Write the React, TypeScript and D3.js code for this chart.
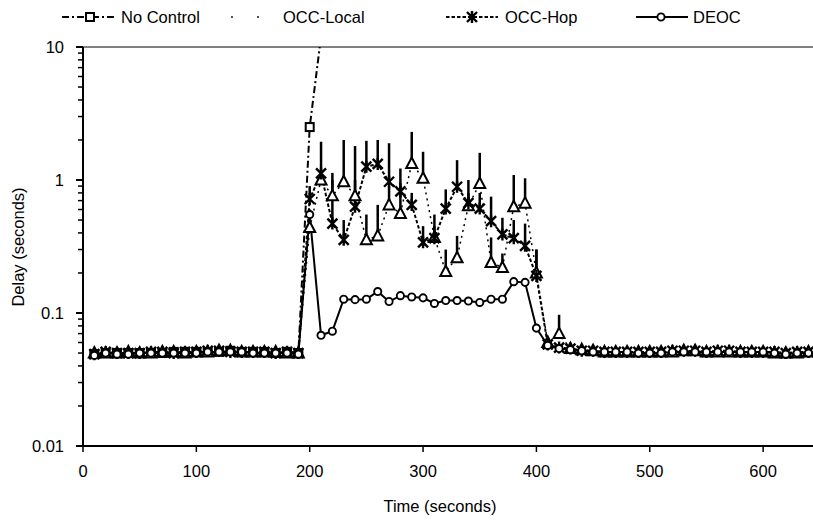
import React from 'react';
import * as d3 from 'd3';

const times = [10, 20, 30, 40, 50, 60, 70, 80, 90, 100, 110, 120, 130, 140, 150, 160, 170, 180, 190,
  200, 210, 220, 230, 240, 250, 260, 270, 280, 290, 300, 310, 320, 330, 340, 350, 360, 370, 380, 390, 400, 410,
  420, 430, 440, 450, 460, 470, 480, 490, 500, 510, 520, 530, 540, 550, 560, 570, 580, 590, 600, 610, 620, 630, 640];

const noControl = [0.049, 0.05, 0.05, 0.05, 0.05, 0.05, 0.05, 0.051, 0.051, 0.051, 0.051, 0.051, 0.052, 0.051, 0.051, 0.051, 0.05, 0.051, 0.05,
  2.5, 12];

const occLocal = [0.05, 0.05, 0.05, 0.051, 0.05, 0.05, 0.051, 0.051, 0.05, 0.051, 0.051, 0.052, 0.052, 0.051, 0.051, 0.051, 0.051, 0.05, 0.05,
  0.44, 1.0, 0.76, 0.97, 0.76, 0.355, 0.38, 0.65, 0.56, 1.33, 1.03, 0.37, 0.205, 0.26, 0.64, 0.94, 0.24, 0.22, 0.63, 0.67, 0.2, 0.06,
  0.07, 0.054, 0.053, 0.052, 0.051, 0.051, 0.051, 0.051, 0.051, 0.051, 0.051, 0.052, 0.052, 0.051, 0.051, 0.051, 0.051, 0.051, 0.051, 0.05, 0.05, 0.05, 0.051];

const occHop = [0.049, 0.051, 0.05, 0.05, 0.05, 0.051, 0.051, 0.05, 0.051, 0.051, 0.052, 0.052, 0.051, 0.051, 0.051, 0.051, 0.05, 0.051, 0.05,
  0.72, 1.12, 0.47, 0.355, 0.63, 1.26, 1.32, 0.97, 0.82, 0.65, 0.34, 0.365, 0.61, 0.89, 0.67, 0.61, 0.49, 0.39, 0.365, 0.32, 0.19, 0.058,
  0.055, 0.054, 0.052, 0.052, 0.051, 0.051, 0.051, 0.051, 0.051, 0.051, 0.052, 0.052, 0.052, 0.051, 0.052, 0.052, 0.051, 0.051, 0.051, 0.051, 0.05, 0.051, 0.051];

const deoc = [0.048, 0.05, 0.049, 0.049, 0.05, 0.05, 0.05, 0.05, 0.05, 0.05, 0.051, 0.051, 0.051, 0.051, 0.05, 0.05, 0.05, 0.05, 0.049,
  0.55, 0.068, 0.073, 0.127, 0.126, 0.127, 0.145, 0.122, 0.135, 0.132, 0.13, 0.118, 0.124, 0.124, 0.123, 0.12, 0.127, 0.127, 0.172, 0.17, 0.077, 0.057,
  0.054, 0.053, 0.052, 0.051, 0.051, 0.051, 0.051, 0.05, 0.05, 0.05, 0.051, 0.051, 0.051, 0.051, 0.051, 0.051, 0.051, 0.051, 0.051, 0.05, 0.049, 0.05, 0.05];

const errTimes = [200, 210, 220, 230, 240, 250, 260, 270, 280, 290, 300, 310, 320, 330, 340, 350, 360, 370, 380, 390, 400, 410, 420];
const occLocalUpper = [0.6, null, 1.0, 2.0, 1.0, 0.55, 0.65, 0.9, 1.22, 2.3, 1.63, 0.45, 0.3, 0.38, 0.8, 1.6, 0.37, 0.28, 1.09, 1.03, 0.3, null, 0.097];
const occHopUpper = [0.9, 1.94, 1.13, 0.5, 1.8, 1.97, 2.0, 1.89, 0.95, 0.8, 0.45, 0.55, 0.85, 1.41, 1.0, 0.8, 0.75, 0.52, 0.5, 0.47, 0.3, null, null];

const xTicks = [0, 100, 200, 300, 400, 500, 600];
const yTicks = [0.01, 0.1, 1, 10];
const yTickLabels = ['0.01', '0.1', '1', '10'];
const legendNames = ['No Control', 'OCC-Local', 'OCC-Hop', 'DEOC'];

const FONT = '"Liberation Sans", Arial, Helvetica, sans-serif';

const W = 813, H = 520;
const left = 83, right = 813, top = 47, bottom = 446;

function Marker({ kind, x, y }: { kind: string; x: number; y: number }) {
  if (kind === 'square') {
    return <rect x={x - 4} y={y - 4} width={8} height={8} fill="#fff" stroke="#000" strokeWidth={2} />;
  }
  if (kind === 'triangle') {
    return <path d={`M${x},${y - 6}L${x + 5.5},${y + 4.5}L${x - 5.5},${y + 4.5}Z`} fill="#fff" stroke="#000" strokeWidth={2} />;
  }
  if (kind === 'star') {
    return <path d={`M${x - 5},${y - 5}L${x + 5},${y + 5}M${x - 5},${y + 5}L${x + 5},${y - 5}M${x},${y - 6}L${x},${y + 6}`} stroke="#000" strokeWidth={2.4} fill="none" />;
  }
  return <circle cx={x} cy={y} r={3.6} fill="#fff" stroke="#000" strokeWidth={1.9} />;
}

export default function App() {
  const x = d3.scaleLinear().domain([0, 644]).range([left, right]);
  const y = d3.scaleLog().domain([0.01, 10]).range([bottom, top]);

  const series = [
    { name: 'No Control', values: noControl, dash: '7,3,2,3', width: 2, marker: 'square' },
    { name: 'OCC-Local', values: occLocal, dash: '2,4', width: 1.5, marker: 'triangle' },
    { name: 'OCC-Hop', values: occHop, dash: '3.5,2', width: 2, marker: 'star' },
    { name: 'DEOC', values: deoc, dash: undefined as string | undefined, width: 2, marker: 'circle' },
  ];

  const line = d3.line<number>()
    .x((_, i) => x(times[i]))
    .y((d) => y(d));

  const minor: number[] = [];
  [0.01, 0.1, 1].forEach((b) => { for (let k = 2; k <= 9; k++) minor.push(b * k); });

  const errBars = (vals: number[], upper: (number | null)[]) =>
    errTimes.map((t, i) => {
      const u = upper[i];
      if (u == null) return null;
      const idx = times.indexOf(t);
      const v = vals[idx];
      return <line key={t} x1={x(t)} x2={x(t)} y1={y(v)} y2={y(u)} stroke="#000" strokeWidth={2.5} />;
    });

  const legendItems = [
    { x0: 62, x1: 115, mx: 90, tx: 121 },
    { x0: 222, x1: 276, mx: -1, tx: 283 },
    { x0: 446, x1: 498, mx: 472, tx: 505 },
    { x0: 636, x1: 688, mx: 661, tx: 693 },
  ];

  return (
    <svg width={W} height={H} style={{ display: 'block', position: 'absolute', left: 0, top: 0, background: '#fff' }}
      fontFamily={FONT}>
      <rect x={0} y={0} width={W} height={H} fill="#fff" />
      <defs>
        <clipPath id="plot">
          <rect x={left} y={top} width={right - left} height={bottom - top} />
        </clipPath>
      </defs>

      {/* legend */}
      {legendItems.map((l, i) => {
        const s = series[i];
        return (
          <g key={i}>
            {i === 1 ? (
              <>
                <circle cx={232} cy={17} r={0.9} fill="#000" />
                <circle cx={258} cy={17} r={0.9} fill="#000" />
              </>
            ) : (
              <line x1={l.x0} x2={l.x1} y1={17} y2={17} stroke="#000" strokeWidth={s.width} strokeDasharray={s.dash} />
            )}
            {l.mx > 0 && <Marker kind={s.marker} x={l.mx} y={17} />}
            <text x={l.tx} y={22.5} fontSize={16.5}>{legendNames[i]}</text>
          </g>
        );
      })}

      {/* axes */}
      <line x1={left} x2={right} y1={top} y2={top} stroke="#000" strokeWidth={1} />
      <line x1={left} x2={left} y1={top} y2={bottom} stroke="#000" strokeWidth={2} />
      <line x1={left} x2={right} y1={bottom} y2={bottom} stroke="#000" strokeWidth={2} />
      {yTicks.map((t, i) => (
        <g key={t}>
          <line x1={left - 7} x2={left} y1={y(t)} y2={y(t)} stroke="#000" strokeWidth={2} />
          <text x={64} y={y(t) + 6} fontSize={16.5} textAnchor="end">{yTickLabels[i]}</text>
        </g>
      ))}
      {minor.map((t) => (
        <line key={t} x1={left - 5} x2={left} y1={y(t)} y2={y(t)} stroke="#000" strokeWidth={1.5} />
      ))}
      {xTicks.map((t) => (
        <g key={t}>
          <line x1={x(t)} x2={x(t)} y1={bottom} y2={bottom + 6} stroke="#000" strokeWidth={1.5} />
          <text x={x(t)} y={477} fontSize={16.5} textAnchor="middle">{t}</text>
        </g>
      ))}
      <text x={440} y={512} fontSize={16.5} textAnchor="middle">Time (seconds)</text>
      <text transform="translate(24,247) rotate(-90)" fontSize={16.5} textAnchor="middle">Delay (seconds)</text>

      {/* data */}
      <g clipPath="url(#plot)">
        {series.map((s) => (
          <path key={s.name} d={line(s.values) || ''} fill="none" stroke="#000" strokeWidth={s.width}
            strokeDasharray={s.dash} />
        ))}
        {errBars(occLocal, occLocalUpper)}
        {errBars(occHop, occHopUpper)}
        {series.map((s) => (
          <g key={s.name + 'm'}>
            {s.values.map((v, i) => (
              <Marker key={i} kind={s.marker} x={x(times[i])} y={y(v)} />
            ))}
          </g>
        ))}
      </g>
    </svg>
  );
}
